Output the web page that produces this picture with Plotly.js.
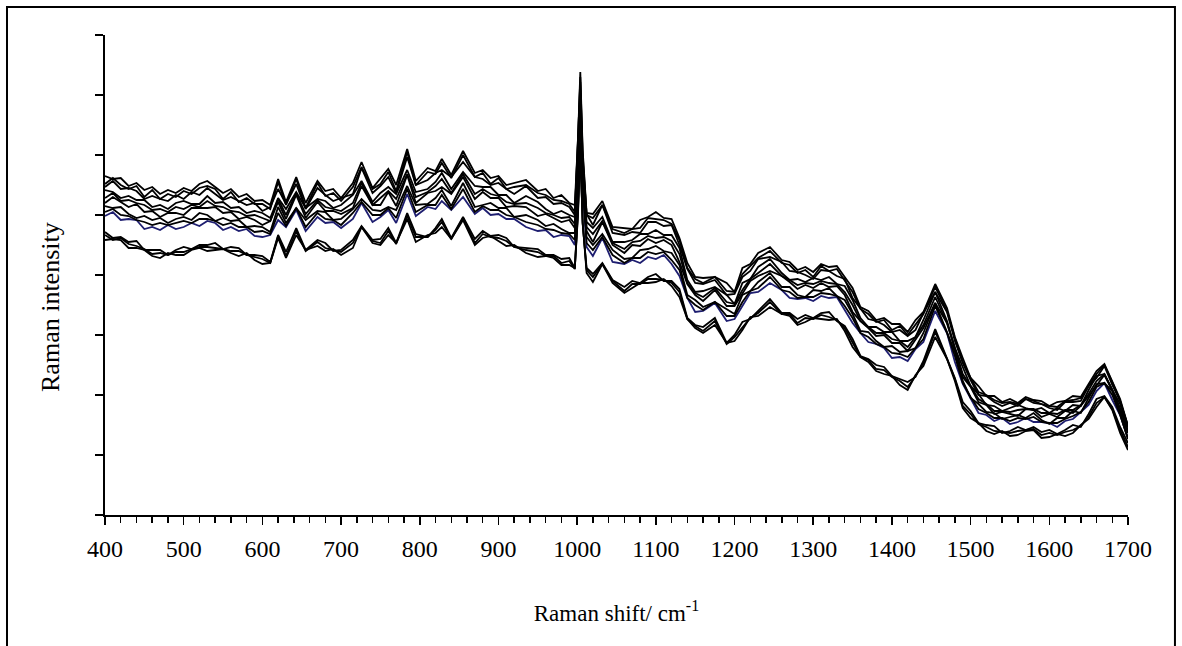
<!DOCTYPE html>
<html>
<head>
<meta charset="utf-8">
<script src="https://cdn.plot.ly/plotly-3.0.1.min.js"></script>
<style>html,body{margin:0;padding:0;background:#fff;}#chart{width:1182px;height:646px;}</style>
</head>
<body>
<div id="chart"></div>
<script>
// Raman shift (cm-1)
const shift = [400,410,420,430,440,450,460,470,480,490,
500,510,520,530,540,550,560,570,580,590,
600,610,620,630,643,655,670,680,690,700,
715,726,740,750,760,770,784,795,810,820,
828,840,855,870,880,890,900,910,920,935,
950,960,970,980,990,997,1001,1004,1007,1012,
1020,1032,1045,1060,1070,1080,1090,1100,1110,1120,
1130,1140,1150,1160,1175,1190,1200,1210,1220,1230,
1245,1260,1270,1280,1290,1300,1310,1320,1330,1340,
1350,1360,1370,1380,1390,1400,1410,1420,1430,1440,
1455,1470,1480,1490,1500,1510,1520,1530,1540,1550,
1560,1570,1580,1590,1600,1610,1620,1630,1640,1650,
1660,1670,1680,1690,1700];

// Raman intensity (arbitrary units), one array per spectrum
const spectrum1 = [339,336,337,329,332,325,328,321,325,322,
327,324,331,334,328,322,326,318,321,314,
315,310,336,313,338,312,334,324,326,317,
332,353,327,337,346,330,366,334,347,344,
356,340,364,342,345,337,339,330,332,335,
324,326,317,320,312,310,375,443,365,302,
301,314,288,287,286,295,298,303,297,296,
277,252,238,237,238,232,223,247,251,262,
268,255,253,245,248,243,251,248,249,238,
227,208,204,195,197,191,191,183,195,203,
231,207,178,157,137,129,119,119,113,116,
112,118,115,114,109,113,114,119,118,131,
144,151,134,116,89];
const spectrum2 = [328,334,326,327,324,316,319,316,314,320,
316,323,320,327,321,315,318,314,310,312,
304,308,326,311,331,306,327,320,314,317,
321,347,322,329,338,322,358,330,335,342,
345,338,353,338,336,330,332,326,321,329,
317,318,311,312,308,300,368,433,356,301,
290,310,282,280,283,282,293,293,289,290,
270,246,232,231,235,220,221,238,244,256,
258,253,244,243,240,236,245,244,239,236,
217,207,196,194,190,183,185,179,185,202,
223,203,174,152,135,120,119,113,109,112,
109,116,112,111,107,105,113,113,114,129,
137,149,130,114,88];
const spectrum3 = [325,323,317,319,315,315,308,310,306,312,
314,311,311,319,312,313,307,308,302,304,
302,297,317,306,323,307,316,314,307,310,
320,334,313,322,328,321,345,323,326,333,
342,326,343,329,328,328,320,320,312,319,
313,306,301,304,300,298,357,425,346,293,
287,298,273,273,275,281,281,285,280,280,
267,235,223,224,228,220,211,232,236,248,
256,242,235,236,233,237,235,238,231,229,
215,197,188,188,183,183,174,174,178,195,
223,194,167,147,129,121,110,109,104,107,
110,107,105,107,102,107,104,110,109,125,
139,141,125,111,84];
const spectrum4 = [312,318,313,308,311,303,304,298,302,302,
300,307,307,307,308,302,303,296,298,295,
290,294,313,296,320,297,313,304,304,301,
307,329,310,310,323,309,340,312,322,324,
328,321,338,316,323,317,317,308,309,308,
299,301,297,293,295,287,353,414,342,284,
273,293,270,262,270,269,276,272,275,270,
253,231,220,214,225,209,209,221,234,239,
244,239,233,226,230,227,232,228,229,220,
203,194,187,179,180,172,172,164,176,187,
212,192,166,138,128,113,110,101,103,101,
99,106,105,98,101,98,104,102,109,119,
129,140,125,103,82];
const spectrum5 = [309,307,308,301,297,299,295,297,292,296,
298,295,302,300,294,297,294,295,288,289,
288,283,308,292,307,295,304,303,295,296,
306,316,305,304,308,305,329,310,311,317,
325,309,332,308,310,312,307,307,298,300,
295,289,291,286,282,282,343,405,331,278,
270,281,265,256,257,265,266,269,264,262,
250,220,215,208,213,206,201,220,224,233,
242,228,228,220,218,225,224,227,219,215,
201,184,183,174,168,169,163,164,167,182,
212,183,163,134,117,111,103,102,96,98,
100,97,102,95,91,97,97,104,102,117,
131,132,124,101,76];
const spectrum6 = [299,303,295,296,295,286,288,285,290,286,
288,292,289,294,292,285,288,284,286,279,
278,280,295,288,305,284,298,292,293,287,
296,312,293,298,305,292,321,299,308,306,
314,305,318,301,307,300,301,296,296,288,
284,285,278,280,279,270,336,394,328,268,
259,277,253,251,255,252,258,256,260,251,
239,217,203,204,212,194,196,209,222,223,
232,225,217,216,217,214,219,217,218,205,
192,182,173,171,167,157,158,154,166,173,
204,182,153,131,117,102,100,94,97,91,
93,97,93,93,92,88,94,96,103,110,
124,132,115,100,77];
const spectrum7 = [283,277,278,273,274,265,265,265,260,265,
268,266,270,270,272,266,268,267,260,260,
259,253,280,263,287,265,275,272,264,265,
275,289,275,276,287,272,302,281,278,287,
296,277,298,276,284,279,280,277,268,267,
266,260,260,256,257,247,305,372,291,247,
241,252,235,228,234,232,238,241,234,234,
226,197,190,188,197,172,180,193,196,204,
216,202,202,196,200,197,202,203,194,189,
176,159,156,150,148,139,136,133,138,154,
186,157,137,113,104,92,90,89,82,84,
88,85,88,83,85,81,85,90,88,101,
116,119,108,88,72];
const spectrum8 = [275,276,275,267,267,265,259,257,262,260,
260,265,267,264,265,266,262,259,262,255,
251,252,277,257,280,265,269,264,266,260,
267,288,272,270,280,272,296,273,280,282,
288,276,295,270,277,279,274,269,270,262,
258,259,257,250,250,247,299,363,293,242,
233,251,232,222,227,232,232,233,236,229,
218,196,187,182,190,172,174,185,198,199,
208,201,199,190,193,197,196,195,196,184,
168,158,153,144,141,139,130,125,140,149,
178,156,134,107,97,92,84,81,84,79,
80,84,85,77,78,81,79,82,90,96,
108,118,105,82,65];
const spectrum9 = [331,337,330,326,329,318,325,316,321,318,
324,321,327,329,326,316,323,313,317,311,
311,306,333,310,336,307,332,319,322,314,
328,348,326,331,343,324,363,330,343,341,
352,337,360,338,342,331,337,326,328,330,
322,320,315,314,311,303,372,438,361,300,
297,310,286,282,286,287,297,296,295,291,
275,247,236,232,238,224,223,241,249,257,
264,252,250,242,245,238,249,244,246,235,
223,206,201,193,195,185,189,180,191,201,
228,204,177,153,137,123,120,115,112,113,
111,116,114,111,109,108,114,115,117,129,
141,150,133,114,89];
const spectrum10 = [317,322,314,315,312,310,305,306,303,308,
306,310,308,314,309,308,304,303,299,300,
297,294,316,300,322,301,315,308,306,304,
312,332,310,317,324,316,341,318,323,329,
336,322,341,321,326,321,319,313,311,312,
307,302,300,297,298,291,355,420,344,288,
281,294,272,266,273,274,279,277,278,274,
261,232,222,218,227,213,211,225,236,242,
251,239,235,230,232,231,234,232,231,223,
210,194,188,182,182,176,174,168,178,190,
218,192,167,141,129,116,111,104,104,103,
105,106,106,102,102,101,105,105,110,121,
134,141,125,107,83];
const spectrum11 = [303,306,300,299,295,293,290,292,290,292,
294,292,296,296,294,290,292,288,288,283,
284,281,302,289,307,288,302,296,295,290,
302,313,300,300,307,297,326,303,310,310,
320,306,326,303,309,305,305,300,298,293,
290,286,285,282,281,275,340,400,330,272,
265,278,260,252,257,257,263,261,263,255,
245,217,210,205,213,199,199,213,224,227,
238,225,223,217,218,218,222,221,219,209,
197,182,178,171,168,162,161,158,167,176,
209,182,159,132,118,106,102,97,97,94,
97,96,98,93,92,92,96,99,103,113,
128,132,120,100,76];
const spectrum12 = [280,275,277,271,269,266,261,262,260,263,
263,266,268,268,267,266,264,264,260,258,
256,252,279,259,284,264,273,267,265,263,
272,288,274,272,284,271,299,278,278,285,
293,276,297,272,281,278,277,274,268,265,
263,259,259,252,254,246,302,368,292,245,
238,251,234,224,231,231,236,236,235,232,
223,196,189,184,194,171,178,188,197,202,
213,201,201,192,197,196,200,198,195,187,
173,158,155,146,145,138,134,128,139,152,
183,156,136,109,101,91,88,84,83,82,
84,85,86,80,82,80,83,85,89,98,
112,118,106,85,68];

const seriesList = [spectrum6, spectrum1, spectrum9, spectrum2, spectrum3, spectrum10, spectrum4,
                    spectrum5, spectrum11, spectrum7, spectrum12, spectrum8];
const seriesColors = ['#1e1e70','#000','#000','#000','#000','#000','#000','#000','#000','#000','#000','#000'];

const traces = seriesList.map((ys, i) => ({
  x: shift, y: ys, type: 'scatter', mode: 'lines',
  line: {color: seriesColors[i], width: 1.8},
  hoverinfo: 'skip', showlegend: false
}));

const serif = 'Liberation Serif, Times New Roman, serif';
const layout = {
  width: 1182, height: 646,
  margin: {l: 105, r: 54, t: 35, b: 131},
  paper_bgcolor: '#fff', plot_bgcolor: '#fff',
  showlegend: false,
  xaxis: {
    range: [400, 1700], tick0: 400, dtick: 100,
    ticks: 'outside', ticklen: 8, tickwidth: 1.5, tickcolor: '#000',
    minor: {dtick: 20, ticks: 'outside', ticklen: 6, tickwidth: 1.5, tickcolor: '#000'},
    showline: true, linecolor: '#000', linewidth: 2,
    showgrid: false, zeroline: false,
    ticklabelstandoff: 3,
    tickfont: {family: serif, size: 24, color: '#000'},
    title: {text: 'Raman shift/ cm<sup>-1</sup>', font: {family: serif, size: 23, color: '#000'}, standoff: 44}
  },
  yaxis: {
    range: [0, 480], tick0: 0, dtick: 60,
    ticks: 'outside', ticklen: 8, tickwidth: 1.5, tickcolor: '#000',
    showticklabels: false,
    showline: true, linecolor: '#000', linewidth: 2,
    showgrid: false, zeroline: false
  },
  annotations: [{
    text: 'Raman intensity', textangle: -90,
    xref: 'paper', yref: 'paper', x: -0.0538, y: 0.4333,
    xanchor: 'center', yanchor: 'middle', showarrow: false,
    font: {family: serif, size: 26, color: '#000'}
  }],
  shapes: [{
    type: 'rect', xref: 'paper', yref: 'paper',
    x0: -0.0958, x1: 1.0459, y0: -0.3, y1: 1.0583,
    line: {color: '#000', width: 2}, fillcolor: 'rgba(0,0,0,0)', layer: 'above'
  }]
};

Plotly.newPlot('chart', traces, layout, {staticPlot: true, displayModeBar: false});
</script>
</body>
</html>
